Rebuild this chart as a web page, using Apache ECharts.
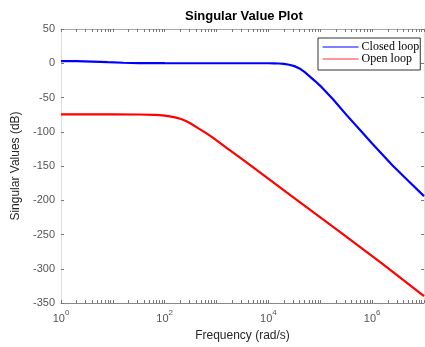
<!DOCTYPE html>
<html>
<head>
<meta charset="utf-8">
<script src="https://cdn.jsdelivr.net/npm/echarts@6/dist/echarts.min.js"></script>
<style>
  html, body { margin: 0; padding: 0; background: #fff; }
  #chart { width: 425px; height: 347px; }
</style>
</head>
<body>
<div id="chart"></div>
<script>
// x values are log10 of frequency (rad/s)
var closedLogFreq = [0, 0.3, 0.6, 0.9, 1.2, 1.5, 2, 3, 4, 4.1, 4.2, 4.3, 4.4, 4.5, 4.6, 4.7, 4.8, 4.9, 5.0, 5.25, 5.5, 5.75, 6.0, 6.39, 6.7, 7];
var closedLoop = [3, 3, 2.5, 1.5, 0.7, 0.3, 0.1, 0, 0, -0.1, -0.4, -1, -2.2, -4.2, -7.6, -13, -19.5, -26, -33, -53, -75, -96, -117, -149, -172, -194];
var openLogFreq = [0, 1, 1.5, 1.8, 1.9, 2.0, 2.1, 2.2, 2.3, 2.4, 2.5, 2.65, 2.8, 2.9, 3.0, 3.2, 3.44, 3.83, 4.5, 5.43, 6.2, 7];
var openLoop = [-74.5, -74.5, -74.8, -75.3, -75.8, -76.5, -77.5, -79, -81, -84, -88, -95, -102, -107, -112.5, -124, -137, -159, -197, -249, -293, -340];
var xLabelExp = [0, 2, 4, 6];

// minor log ticks 1..9 per decade
var xTicks = [];
for (var d = 0; d < 7; d++) {
  for (var m = 1; m < 10; m++) xTicks.push(d + Math.log10(m));
}
xTicks.push(7);

function pairs(xs, ys) {
  return xs.map(function (x, i) { return [x, ys[i]]; });
}

var chart = echarts.init(document.getElementById('chart'));
var tickColor = '#777';
var option = {
  animation: false,
  textStyle: { fontFamily: 'Liberation Sans, Arial, sans-serif' },
  title: {
    text: 'Singular Value Plot',
    left: 180, top: 5,
    textStyle: { fontSize: 13, fontWeight: 'bold', color: '#000' }
  },
  legend: {
    orient: 'vertical',
    left: 318, top: 38,
    padding: [3, 1, 5, 4],
    itemGap: 0,
    itemWidth: 36, itemHeight: 14,
    backgroundColor: '#fff',
    borderColor: '#333', borderWidth: 1, borderRadius: 0,
    itemStyle: { opacity: 0 },
    textStyle: { fontFamily: 'Liberation Serif, Times New Roman, serif', fontSize: 12, color: '#000', padding: [0, 0, 0, -2] },
    data: [
      { name: 'Closed loop', lineStyle: { color: '#0000ff', width: 1.2 } },
      { name: 'Open loop', lineStyle: { color: '#ff3030', width: 1.2 } }
    ]
  },
  grid: { left: 61, top: 29, right: 1, bottom: 38 },
  xAxis: [{
    type: 'value', min: 0, max: 7,
    name: 'Frequency (rad/s)', nameLocation: 'middle', nameGap: 27,
    nameTextStyle: { fontSize: 12, color: '#262626' },
    axisLine: { onZero: false, lineStyle: { color: '#888' } },
    axisTick: { inside: true, length: 3, customValues: xTicks, lineStyle: { color: tickColor } },
    axisLabel: {
      customValues: xLabelExp,
      margin: 6,
      formatter: function (v) { return '{b|10}{s|' + v + '}'; },
      rich: {
        b: { fontSize: 11, color: '#555', verticalAlign: 'bottom' },
        s: { fontSize: 8, color: '#555', verticalAlign: 'bottom', padding: [0, 0, 7, 0] }
      }
    },
    splitLine: { show: false }
  }, {
    type: 'value', min: 0, max: 7, position: 'top',
    axisLine: { onZero: false, lineStyle: { color: '#aaa' } },
    axisTick: { inside: true, length: 3, customValues: xTicks, lineStyle: { color: tickColor } },
    axisLabel: { show: false },
    splitLine: { show: false }
  }],
  yAxis: [{
    type: 'value', min: -350, max: 50, interval: 50,
    name: 'Singular Values (dB)', nameLocation: 'middle', nameGap: 29,
    nameTextStyle: { fontSize: 12, color: '#262626' },
    axisLine: { show: true, onZero: false, lineStyle: { color: '#ddd' } },
    axisTick: { show: true, inside: true, length: 3, lineStyle: { color: tickColor } },
    axisLabel: { fontSize: 11, color: '#555', margin: 6 },
    splitLine: { show: false }
  }, {
    type: 'value', min: -350, max: 50, interval: 50, position: 'right',
    axisLine: { show: true, onZero: false, lineStyle: { color: '#ddd' } },
    axisTick: { show: true, inside: true, length: 3, lineStyle: { color: tickColor } },
    axisLabel: { show: false },
    splitLine: { show: false }
  }],
  series: [{
    name: 'Closed loop', type: 'line',
    data: pairs(closedLogFreq, closedLoop),
    showSymbol: false, symbol: 'none',
    lineStyle: { color: '#0000ff', width: 2.2 },
    itemStyle: { color: '#0000ff' }
  }, {
    name: 'Open loop', type: 'line',
    data: pairs(openLogFreq, openLoop),
    showSymbol: false, symbol: 'none',
    lineStyle: { color: '#ff0000', width: 2.2 },
    itemStyle: { color: '#ff0000' }
  }]
};
chart.setOption(option);
</script>
</body>
</html>
